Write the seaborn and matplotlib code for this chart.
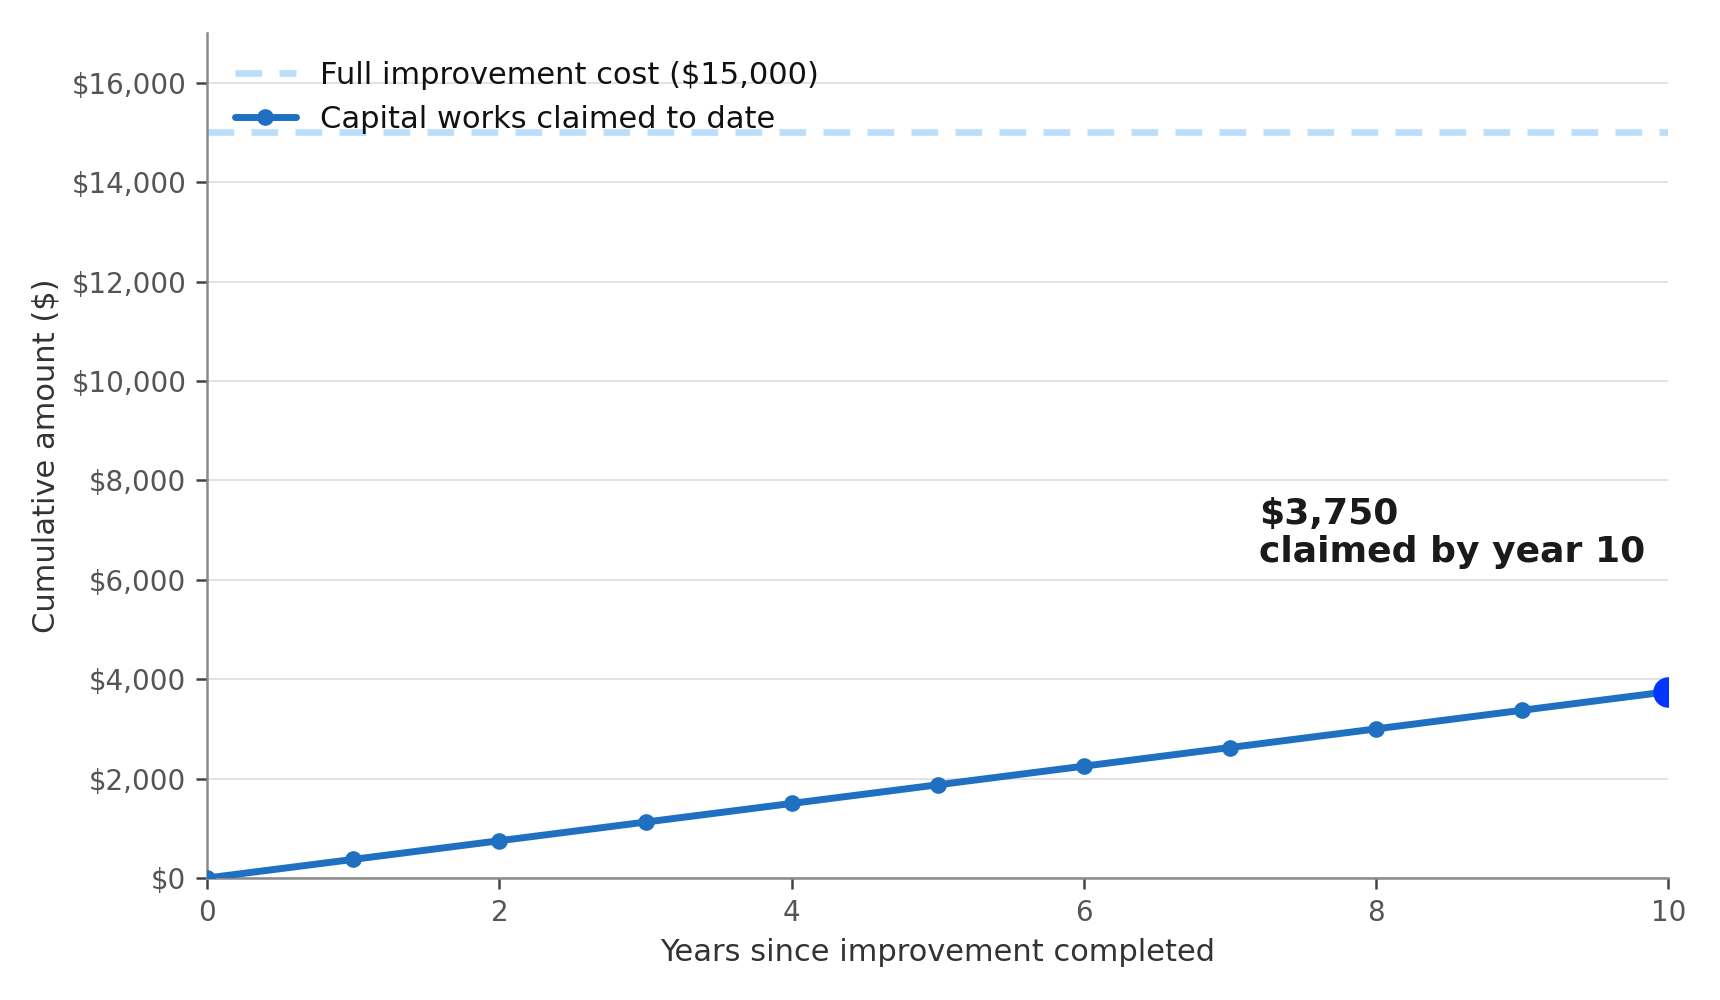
import numpy as np
import pandas as pd
import seaborn as sns
import matplotlib.pyplot as plt
from matplotlib.ticker import FuncFormatter

# data
years = [0, 1, 2, 3, 4, 5, 6, 7, 8, 9, 10]
claimed = [0, 375, 750, 1125, 1500, 1875, 2250, 2625, 3000, 3375, 3750]
full_cost = 15000

LINE_BLUE = "#1f70c1"
LIGHT_BLUE = "#bbdefb"
END_BLUE = "#0036ff"

sns.set_style("white")
plt.rcParams['font.family'] = ['DejaVu Sans']

df = pd.DataFrame({"year": years, "claimed": claimed})

fig = plt.figure(figsize=(8.6, 5), dpi=200)
ax = fig.add_axes([0.1205, 0.122, 0.8495, 0.845])

ax.axhline(full_cost, color=LIGHT_BLUE, lw=2.4, ls=(0, (4, 2.6)),
           label="Full improvement cost ($15,000)", zorder=2)
sns.lineplot(data=df, x="year", y="claimed", ax=ax, color=LINE_BLUE, lw=2.5,
             marker="o", markersize=6, markeredgewidth=0,
             label="Capital works claimed to date", zorder=3)
# highlight last point
ax.plot(years[-1], claimed[-1], "o", color=END_BLUE, markersize=10, zorder=4)

ax.text(7.2, 6950, "$3,750\nclaimed by year 10", fontsize=13, fontweight="bold",
        color="#1a1a1a", ha="left", va="center", linespacing=1.15)

ax.set_xlim(0, 10)
ax.set_ylim(0, 17000)
ax.set_xticks([0, 2, 4, 6, 8, 10])
ax.set_yticks(np.arange(0, 17000, 2000))
ax.yaxis.set_major_formatter(FuncFormatter(lambda v, p: f"${v:,.0f}"))

ax.grid(axis="y", color="#dddddd", lw=0.6)
ax.set_axisbelow(True)
sns.despine(ax=ax)
for s in ["left", "bottom"]:
    ax.spines[s].set_color("#8a8a8a")
    ax.spines[s].set_linewidth(0.9)
ax.tick_params(axis="both", labelsize=10, colors="#555555", length=4, width=0.9,
               direction="out", left=True, bottom=True)
ax.tick_params(axis="both", color="#444444")

ax.set_xlabel("Years since improvement completed", fontsize=11, color="#333333")
ax.set_ylabel("Cumulative amount ($)", fontsize=11, color="#333333")

leg = ax.legend(loc="upper left", frameon=False, fontsize=11, handlelength=2.0,
                borderaxespad=0.5, labelspacing=0.5)
for t in leg.get_texts():
    t.set_color("#111111")

fig.savefig("out.png", dpi=200)
